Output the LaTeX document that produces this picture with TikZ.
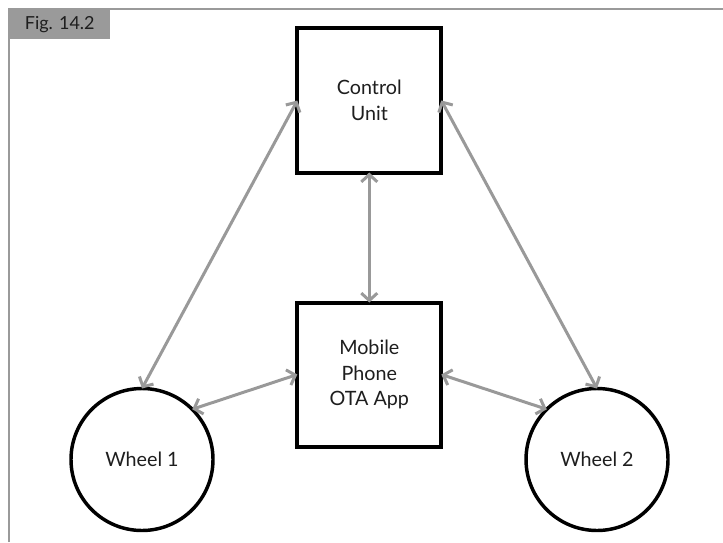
\documentclass[tikz,border=0pt]{standalone}
\usepackage{fontspec}
\setmainfont{Lato}
\usepackage{tikz}
\usetikzlibrary{positioning,arrows.meta}
\definecolor{figgray}{HTML}{9A9A9A}
\definecolor{linkgray}{HTML}{999999}
\definecolor{inkdark}{HTML}{1E1E1E}
\tikzset{
    every node/.style={text=inkdark,font=\fontsize{14.8}{19.3}\selectfont},
    unitbox/.style={draw=black,line width=3pt,minimum size=108pt,inner sep=2pt,outer sep=0pt,align=center},
    wheel/.style={circle,draw=black,line width=2.6pt,minimum size=106.5pt,inner sep=2pt,outer sep=0pt},
    link/.style={draw=linkgray,line width=2.25pt,{Straight Barb[length=5.5pt,width=12pt]}-{Straight Barb[length=5.5pt,width=12pt]}},
    figtab/.style={fill=figgray,anchor=north west,minimum width=75.75pt,minimum height=21.75pt,inner sep=0pt,font=\fontsize{13.5}{16}\selectfont},
    frameline/.style={draw=figgray,line width=1.1pt},
}
\begin{document}
\begin{tikzpicture}[x=0.75pt,y=-0.75pt,node distance=97.5pt]
    \useasboundingbox (0,0) rectangle (723,542);
    \draw[frameline] (9,542) |- (723,9);
    \node[figtab] (tab) at (9,9.8) {Fig. 14.2};

    \node[unitbox] (cu) at (369.3,100.5) {Control\\Unit};
    \node[unitbox,below=of cu] (mob) {Mobile\\Phone\\OTA App};
    \node[wheel] (w1) at (142,459.5) {Wheel 1};
    \node[wheel] (w2) at (597,459.5) {Wheel 2};

    \path[link] (cu.west) -- (w1.north);
    \path[link] (cu.east) -- (w2.north);
    \path[link] (cu.south) -- (mob.north);
    \path[link] (mob.west) -- (w1.north east);
    \path[link] (mob.east) -- (w2.north west);
\end{tikzpicture}
\end{document}
